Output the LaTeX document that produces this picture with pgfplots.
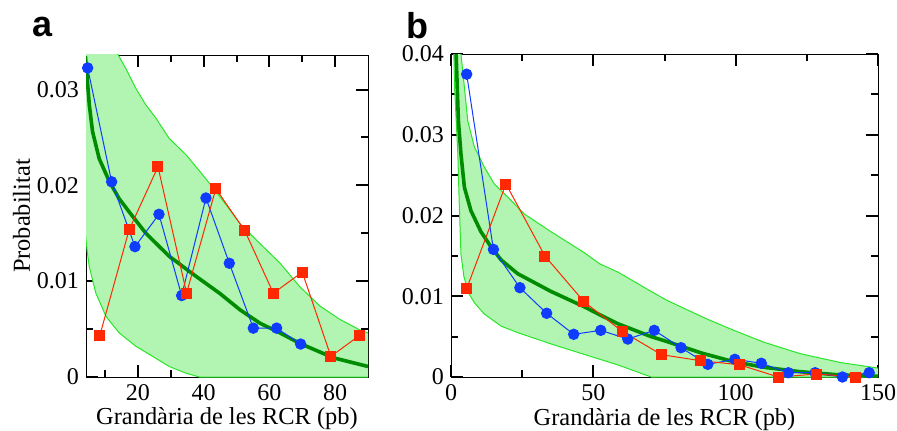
\documentclass[border=0pt]{standalone}
\usepackage{fontspec}
\setmainfont{Liberation Serif}
\newfontfamily\panelfont{Liberation Sans}
\usepackage{pgfplots}
\pgfplotsset{compat=1.18}
\definecolor{bandfill}{RGB}{178,244,178}
\definecolor{bandedge}{RGB}{40,230,40}
\definecolor{curvegreen}{RGB}{0,140,0}
\definecolor{myblue}{RGB}{15,60,255}
\definecolor{myred}{RGB}{255,40,0}
\pgfplotsset{
  common/.style={
    scale only axis,
    anchor=south west,
    scaled x ticks=false, scaled y ticks=false,
    tick style={black, line width=1pt},
    tickwidth=6pt, subtickwidth=3.5pt,
    tick label style={font=\fontsize{12}{14}\selectfont},
    label style={font=\fontsize{12.2}{14}\selectfont},
  },
  band/.style={draw=bandedge, line width=0.5pt},
  fit/.style={draw=curvegreen, line width=1.8pt, no markers},
  sblue/.style={myblue, line width=0.5pt, mark=*, mark size=2.6pt, mark options={fill=myblue, draw=myblue}},
  sred/.style={myred, line width=0.5pt, mark=square*, mark size=2.5pt, mark options={fill=myred, draw=myred}},
}
\begin{document}
\begin{tikzpicture}
% ---------------- panel a ----------------
\begin{axis}[common,
  at={(43pt,26.5pt)}, width=141pt, height=161pt,
  xmin=4.2, xmax=90, ymin=0, ymax=0.0336,
  xtick={20,40,60,80}, xticklabels={20,40,60,80},
  minor xtick={10,30,50,70},
  ytick={0,0.01,0.02,0.03}, yticklabels={0,0.01,0.02,0.03},
  minor ytick={0.005,0.015,0.025},
  xlabel={Grandària de les RCR (pb)},
  ylabel={Probabilitat},
  xlabel style={at={(axis description cs:0.5,-0.149)}, anchor=base},
  ylabel style={at={(axis description cs:-0.1986,0.5)}, anchor=base, rotate=0},
]
\addplot[fill=bandfill, draw=none] coordinates {
 (4,0.060) (9,0.042) (11,0.038) (14,0.0336) (16.3,0.0322) (19.4,0.0301)
 (22.4,0.0284) (25.5,0.0270) (29.5,0.0249) (34.6,0.0232) (39.7,0.0211)
 (45,0.0188) (51.1,0.0160) (57.2,0.0139) (63.2,0.0119) (69.3,0.0094)
 (75.4,0.0074) (81.5,0.0060) (87.6,0.0049) (90,0.0046)
 (90,0) (38.7,0) (34.6,0.0004) (29.5,0.0011) (24.5,0.00215) (19.4,0.0032)
 (14.3,0.0046) (10.3,0.0063) (7.2,0.00875) (5.2,0.0115) (4.6,0.0130) (4.0,0.0150)
} -- cycle;
\addplot[band] coordinates {
 (4,0.060) (9,0.042) (11,0.038) (14,0.0336) (16.3,0.0322) (19.4,0.0301)
 (22.4,0.0284) (25.5,0.0270) (29.5,0.0249) (34.6,0.0232) (39.7,0.0211)
 (45,0.0188) (51.1,0.0160) (57.2,0.0139) (63.2,0.0119) (69.3,0.0094)
 (75.4,0.0074) (81.5,0.0060) (87.6,0.0049) (90,0.0046)};
\addplot[band] coordinates {
 (4.0,0.0150) (4.6,0.0130) (5.2,0.0115) (7.2,0.00875) (10.3,0.0063)
 (14.3,0.0046) (19.4,0.0032) (24.5,0.00215) (29.5,0.0011) (34.6,0.0004)
 (38.7,0) (90,0)};
\addplot[fit] coordinates {
 (4.0,0.0335) (4.2,0.0328) (5.2,0.0284) (6.2,0.0256) (8.2,0.0228)
 (11.3,0.0204) (14.3,0.0186) (17.4,0.0172) (22.4,0.0150) (29.5,0.0126)
 (37.7,0.0105) (45,0.0087) (51.1,0.0070) (57.2,0.0056) (63.2,0.0046)
 (69.3,0.0035) (79.5,0.0020) (90,0.0011)};
\addplot[sblue] coordinates {
 (4.7,0.03225) (12.0,0.02037) (19.1,0.0136) (26.4,0.01698) (33.3,0.0085)
 (40.7,0.01868) (47.8,0.01187) (55.1,0.0051) (62.2,0.0051) (69.5,0.00344)};
\addplot[sred] coordinates {
 (8.4,0.00433) (17.3,0.01534) (26.1,0.02194) (34.8,0.00875) (43.7,0.01965)
 (52.5,0.01527) (61.2,0.00875) (70.0,0.01094) (78.7,0.00215) (87.4,0.00433)};
\end{axis}
% ---------------- panel b ----------------
\begin{axis}[common,
  at={(225.5pt,26.5pt)}, width=213.5pt, height=161.5pt,
  xmin=0, xmax=150, ymin=0, ymax=0.04,
  xtick={0,50,100,150}, xticklabels={0,50,100,150},
  minor xtick={25,75,125},
  ytick={0,0.01,0.02,0.03,0.04}, yticklabels={0,0.01,0.02,0.03,0.04},
  minor ytick={0.005,0.015,0.025,0.035},
  xlabel={Grandària de les RCR (pb)},
  xlabel style={at={(axis description cs:0.5,-0.1486)}, anchor=base},
]
\addplot[fill=bandfill, draw=none] coordinates {
 (2.5,0.050) (3.5,0.040) (4.7,0.0359) (5.9,0.0317) (8.2,0.0285) (11.7,0.0260)
 (15.2,0.0239) (19.9,0.0223) (25.7,0.0202) (35.1,0.0180) (46.8,0.0154)
 (52.3,0.0140) (58.6,0.0130) (70.3,0.0106) (75.8,0.0095) (89.8,0.0072)
 (99.2,0.0058) (110,0.0043) (122.6,0.0029) (136.7,0.0018) (150,0.0011)
 (150,0) (70.3,0) (58.6,0.0015) (46.8,0.0028) (35.1,0.0041) (23.4,0.0055)
 (17.6,0.0063) (11.7,0.0078) (8.2,0.0092) (6.0,0.0105) (4.5,0.0125)
 (3.5,0.0152) (2.9,0.0214) (2.4,0.0276) (1.2,0.0363) (0.5,0.050)
} -- cycle;
\addplot[band] coordinates {
 (2.5,0.050) (3.5,0.040) (4.7,0.0359) (5.9,0.0317) (8.2,0.0285) (11.7,0.0260)
 (15.2,0.0239) (19.9,0.0223) (25.7,0.0202) (35.1,0.0180) (46.8,0.0154)
 (52.3,0.0140) (58.6,0.0130) (70.3,0.0106) (75.8,0.0095) (89.8,0.0072)
 (99.2,0.0058) (110,0.0043) (122.6,0.0029) (136.7,0.0018) (150,0.0011)};
\addplot[band] coordinates {
 (0.5,0.050) (1.2,0.0363) (2.4,0.0276) (2.9,0.0214) (3.5,0.0152) (4.5,0.0125)
 (6.0,0.0105) (8.2,0.0092) (11.7,0.0078) (17.6,0.0063) (23.4,0.0055)
 (35.1,0.0041) (46.8,0.0028) (58.6,0.0015) (70.3,0) (150,0)};
\addplot[fit] coordinates {
 (1.6,0.042) (2.6,0.0317) (3.5,0.0276) (4.7,0.0235) (7.0,0.0206) (10.5,0.0180)
 (14.1,0.0161) (17.6,0.0145) (23.4,0.0128) (35.1,0.0106) (46.8,0.0087)
 (52.3,0.0077) (58.6,0.0066) (70.3,0.0050) (75.8,0.0044) (87.7,0.0030)
 (99.2,0.0019) (110,0.0012) (122.6,0.00066) (135,0.0003) (150,0.0001)};
\addplot[sblue] coordinates {
 (5.5,0.0375) (14.9,0.0158) (24.2,0.01106) (33.6,0.00789) (43.1,0.00529)
 (52.6,0.00578) (62.1,0.0047) (71.4,0.00578) (80.8,0.00363) (90.2,0.00157)
 (99.7,0.00219) (109,0.0017) (118.5,0.00053) (127.9,0.00053) (137.5,0)
 (146.9,0.00053)};
\addplot[sred] coordinates {
 (5.5,0.01094) (19.3,0.0239) (33.0,0.01498) (46.7,0.00933) (60.3,0.00561)
 (74.0,0.00276) (87.7,0.00202) (101.3,0.00152) (115.0,0) (128.5,0.00037)
 (142.2,0)};
\end{axis}
\node[anchor=base west, inner sep=0pt, font=\panelfont\bfseries\fontsize{18}{20}\selectfont] at (16pt,196.7pt) {a};
\node[anchor=base west, inner sep=0pt, font=\panelfont\bfseries\fontsize{18}{20}\selectfont] at (203pt,196pt) {b};
\pgfresetboundingbox
\path[use as bounding box] (0,0) rectangle (448.5pt,215pt);
\end{tikzpicture}
\end{document}
